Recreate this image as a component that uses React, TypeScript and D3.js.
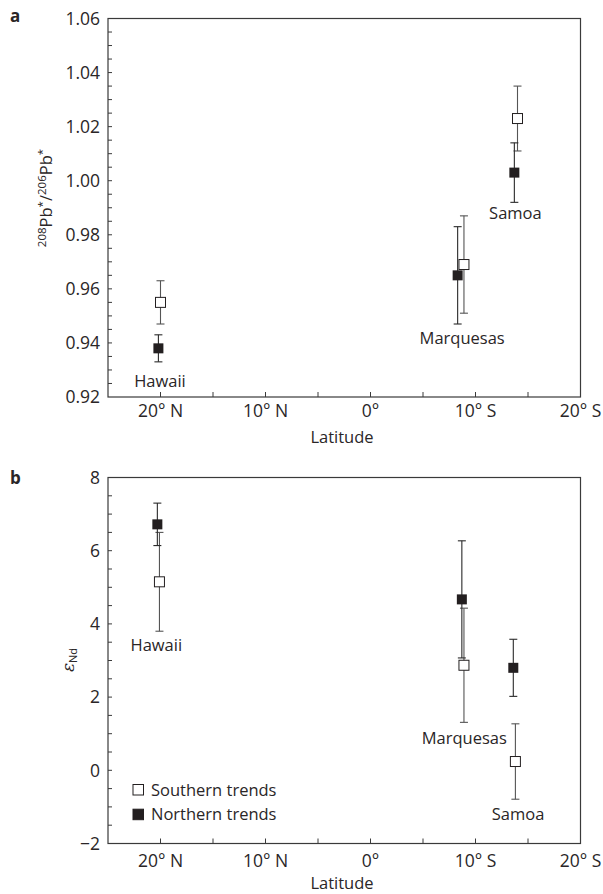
import React from "react";
import * as d3 from "d3";

const sites = ["Hawaii", "Marquesas", "Samoa"];

// Panel a: 208Pb*/206Pb*
const pbSouthLat = [20.0, -8.9, -14.0];
const pbSouthVal = [0.955, 0.969, 1.023];
const pbSouthErr = [0.008, 0.018, 0.012];
const pbNorthLat = [20.2, -8.3, -13.7];
const pbNorthVal = [0.938, 0.965, 1.003];
const pbNorthErr = [0.005, 0.018, 0.011];
const pbLabelLat = [20.05, -8.73, -13.8];
const pbLabelVal = [0.9238, 0.9396, 0.9857];

// Panel b: eps Nd
const ndSouthLat = [20.1, -8.9, -13.8];
const ndSouthVal = [5.15, 2.87, 0.24];
const ndSouthErr = [1.35, 1.56, 1.03];
const ndNorthLat = [20.3, -8.7, -13.6];
const ndNorthVal = [6.72, 4.67, 2.8];
const ndNorthErr = [0.58, 1.6, 0.78];
const ndLabelLat = [20.4, -8.93, -14.05];
const ndLabelVal = [3.27, 0.72, -1.36];

const latMajor = [20, 10, 0, -10, -20];
const latMinor = [20, 15, 10, 5, 0, -5, -10, -15];
const pbMajor = [0.92, 0.94, 0.96, 0.98, 1.0, 1.02, 1.04, 1.06];
const ndMajor = [-2, 0, 2, 4, 6, 8];
const legendItems = ["Southern trends", "Northern trends"];

const FONT = "'Open Sans', 'DejaVu Sans', sans-serif";
const TXT = "#2a2627";
const AX = "#3a3a3a";

const x = d3.scaleLinear().domain([25, -20]).range([108, 580.5]);
const yA = d3.scaleLinear().domain([0.92, 1.06]).range([397, 18.5]);
const yB = d3.scaleLinear().domain([-2, 8]).range([843.5, 477.5]);

const latFmt = (v: number) => (v > 0 ? `${v}° N` : v < 0 ? `${-v}° S` : "0°");

function Panel({ y, minor, major, fmt, sLat, sVal, sErr, nLat, nVal, nErr, lLat, lVal, tickOff, titleOff }: any) {
  const [x0, x1] = x.range();
  const [yb, yt] = y.range();
  const sq = 10;
  const cap = 4;
  const errBar = (lx: number, v: number, e: number, key: string, color: string) => {
    const cx = x(lx);
    return (
      <g key={key} stroke={color} strokeWidth={1.1}>
        <line x1={cx} x2={cx} y1={y(v - e)} y2={y(v + e)} />
        <line x1={cx - cap} x2={cx + cap} y1={y(v - e)} y2={y(v - e)} />
        <line x1={cx - cap} x2={cx + cap} y1={y(v + e)} y2={y(v + e)} />
      </g>
    );
  };
  return (
    <g fontFamily={FONT}>
      <rect x={x0} y={yt} width={x1 - x0} height={yb - yt} fill="none" stroke={AX} strokeWidth={1.2} />
      {minor.map((v: number, i: number) => (
        <line key={"ym" + i} x1={x0} x2={x0 + 4} y1={y(v)} y2={y(v)} stroke={AX} strokeWidth={1} />
      ))}
      {major.map((v: number, i: number) => (
        <text key={"yl" + i} x={x0 - 8} y={y(v)} dy="0.36em" textAnchor="end" fontSize={17.5} fill={TXT}>
          {fmt(v)}
        </text>
      ))}
      {latMinor.map((v, i) => (
        <line key={"xm" + i} x1={x(v)} x2={x(v)} y1={yb} y2={yb - 5} stroke={AX} strokeWidth={1} />
      ))}
      {latMajor.map((v, i) => (
        <text key={"xl" + i} x={x(v)} y={yb + tickOff} textAnchor="middle" fontSize={17.5} fill={TXT}>
          {latFmt(v)}
        </text>
      ))}
      <text x={342} y={yb + titleOff} textAnchor="middle" fontSize={16.5} fill={TXT}>
        Latitude
      </text>
      {sLat.map((l: number, i: number) => errBar(l, sVal[i], sErr[i], "se" + i, "#555"))}
      {nLat.map((l: number, i: number) => errBar(l, nVal[i], nErr[i], "ne" + i, "#2a2a2a"))}
      {nLat.map((l: number, i: number) => (
        <rect key={"nm" + i} x={x(l) - sq / 2} y={y(nVal[i]) - sq / 2} width={sq} height={sq} fill="#231f20" />
      ))}
      {sLat.map((l: number, i: number) => (
        <rect key={"sm" + i} x={x(l) - sq / 2} y={y(sVal[i]) - sq / 2} width={sq} height={sq} fill="#fff" stroke="#231f20" strokeWidth={1} />
      ))}
      {sites.map((s, i) => (
        <text key={"lab" + i} x={x(lLat[i])} y={y(lVal[i])} textAnchor="middle" fontSize={16.5} fill={TXT}>
          {s}
        </text>
      ))}
    </g>
  );
}

export default function App() {
  const pbMinor = d3.range(0, 28).map((i) => 0.925 + i * 0.005);
  const ndMinor = d3.range(0, 20).map((i) => -1.5 + i * 0.5);
  return (
    <svg width={603} height={894} style={{ position: "absolute", left: 0, top: 0, background: "#fff" }}>
      <rect width={603} height={894} fill="#fff" />
      <text x={10} y={22} fontFamily={FONT} fontWeight="bold" fontSize={17} fill={TXT}>a</text>
      <text x={10} y={484} fontFamily={FONT} fontWeight="bold" fontSize={17} fill={TXT}>b</text>
      <Panel
        y={yA}
        minor={pbMinor}
        major={pbMajor}
        fmt={(v: number) => v.toFixed(2)}
        sLat={pbSouthLat}
        sVal={pbSouthVal}
        sErr={pbSouthErr}
        nLat={pbNorthLat}
        nVal={pbNorthVal}
        nErr={pbNorthErr}
        lLat={pbLabelLat}
        lVal={pbLabelVal}
        tickOff={20}
        titleOff={46}
      />
      <Panel
        y={yB}
        minor={ndMinor}
        major={ndMajor}
        fmt={(v: number) => (v < 0 ? "\u2212" + -v : String(v))}
        sLat={ndSouthLat}
        sVal={ndSouthVal}
        sErr={ndSouthErr}
        nLat={ndNorthLat}
        nVal={ndNorthVal}
        nErr={ndNorthErr}
        lLat={ndLabelLat}
        lVal={ndLabelVal}
        tickOff={23}
        titleOff={45}
      />
      <text transform="translate(52,198) rotate(-90)" textAnchor="middle" fontFamily={FONT} fontSize={16.5} fill={TXT}>
        <tspan fontSize={11.5} dy={-6}>208</tspan>
        <tspan dy={6}>Pb</tspan>
        <tspan fontSize={11.5} dy={-6}>*</tspan>
        <tspan dy={6}>/</tspan>
        <tspan fontSize={11.5} dy={-6}>206</tspan>
        <tspan dy={6}>Pb</tspan>
        <tspan fontSize={11.5} dy={-6}>*</tspan>
      </text>
      <text transform="translate(74,660) rotate(-90)" textAnchor="middle" fontFamily={FONT} fontSize={17} fill={TXT}>
        <tspan fontStyle="italic" fontFamily="'DejaVu Serif', serif">ε</tspan>
        <tspan fontSize={11} dy={3}>Nd</tspan>
      </text>
      <g fontFamily={FONT} fontSize={16.5} fill={TXT}>
        {legendItems.map((t, i) => (
          <g key={t}>
            <rect
              x={133}
              y={784.5 + i * 24.7}
              width={10.5}
              height={10.5}
              fill={i === 0 ? "#fff" : "#231f20"}
              stroke="#231f20"
              strokeWidth={1}
            />
            <text x={151} y={795.7 + i * 24.7}>{t}</text>
          </g>
        ))}
      </g>
    </svg>
  );
}
